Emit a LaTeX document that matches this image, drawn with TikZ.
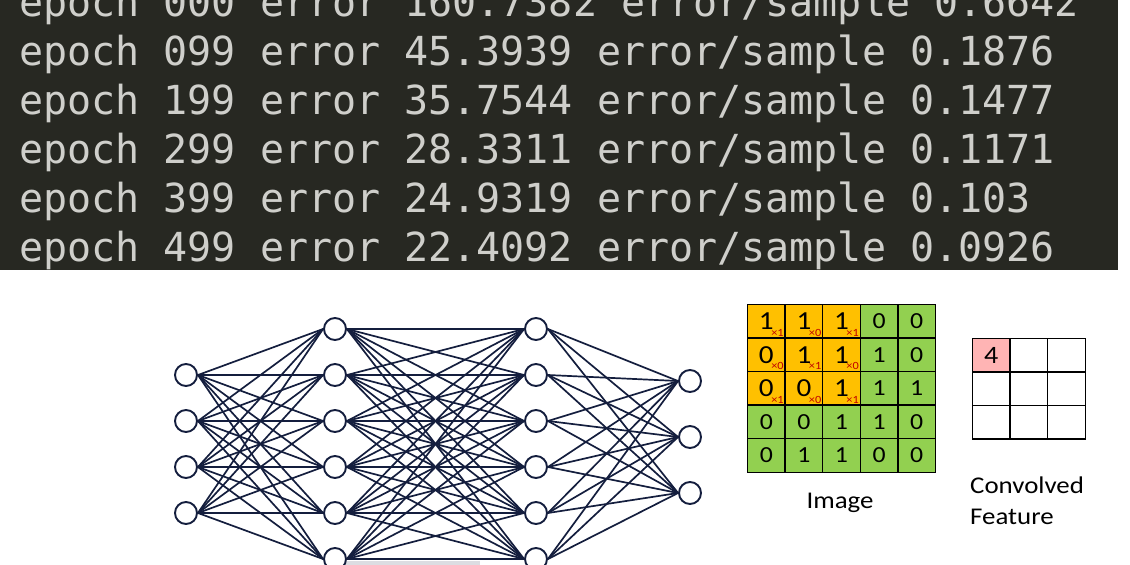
\documentclass[tikz,border=0pt]{standalone}
\usepackage{fontspec}
\usepackage{graphicx}
\setmainfont{Carlito}
\newfontfamily\termfont{DejaVu Sans Mono}
\definecolor{termbg}{RGB}{39,40,34}
\definecolor{termfg}{RGB}{207,207,203}
\definecolor{netblue}{RGB}{20,30,62}
\definecolor{kernorange}{RGB}{255,192,0}
\definecolor{imggreen}{RGB}{146,208,80}
\definecolor{featpink}{RGB}{255,180,180}
\definecolor{kernred}{RGB}{192,0,0}
\newcommand{\wide}[1]{\scalebox{1.12}[1]{#1}}
\tikzset{
  termline/.style={anchor=base west,inner sep=0pt,text=termfg,font=\termfont\fontsize{40}{49}\selectfont},
  neuron/.style={circle,draw=netblue,line width=1.9pt,minimum size=22pt,inner sep=0pt,fill=white},
  synapse/.style={draw=netblue,line width=1.7pt},
  imgcell/.style={draw=black,line width=1.5pt,minimum width=37.6pt,minimum height=33.6pt,inner sep=0pt,fill=imggreen,font=\fontsize{23}{23}\selectfont},
  kern0/.style={},
  kern1/.style={fill=kernorange,font=\fontsize{26}{26}\selectfont},
  weight/.style={anchor=base east,inner sep=0pt,text=kernred,font=\fontsize{11}{11}\selectfont},
  featcell/.style={imgcell,fill=white,font=\fontsize{25}{25}\selectfont},
  caption/.style={inner sep=0pt,font=\fontsize{24}{24}\selectfont}
}
\begin{document}
\begin{tikzpicture}[x=1pt,y=-1pt]
\useasboundingbox (0,0) rectangle (1130,565);
\fill[termbg] (0,0) rectangle (1118,270);
\foreach \epo/\loss/\rate [count=\k] in {000/160.7382/0.6642,099/45.3939/0.1876,199/35.7544/0.1477,299/28.3311/0.1171,399/24.9319/0.103,499/22.4092/0.0926}
\node[termline] (log\k) at (19,{16+49*(\k-1)}) {epoch \epo\ error \loss\ error/sample \rate};
% network
\fill[netblue!15] (345,561) rectangle (480,565);
\foreach \y [count=\k] in {375,421,467,513}
\node[neuron] (in\k) at (186,\y) {};
\foreach \y [count=\k] in {329,375,421,467,513,559}
\node[neuron] (hida\k) at (335,\y) {};
\foreach \y [count=\k] in {329,375,421,467,513,559}
\node[neuron] (hidb\k) at (536,\y) {};
\foreach \y [count=\k] in {381,437,493}
\node[neuron] (out\k) at (690,\y) {};
\foreach \a in {1,...,4}
\foreach \b in {1,...,6}
\draw[synapse] (in\a.east) -- (hida\b.west);
\foreach \a in {1,...,6}
\foreach \b in {1,...,6}
\draw[synapse] (hida\a.east) -- (hidb\b.west);
\foreach \a in {1,...,6}
\foreach \b in {1,...,3}
\draw[synapse] (hidb\a.east) -- (out\b.west);
% image and kernel
\foreach \row [count=\r] in {{1,1,1,0,0},{0,1,1,1,0},{0,0,1,1,1},{0,0,1,1,0},{0,1,1,0,0}}
\foreach \v [count=\c] in \row {
\pgfmathtruncatemacro\inker{and(\r<4,\c<4)}
\node[imgcell,kern\inker] (img\r\c) at ({747.5+37.6*(\c-0.5)},{304.3+33.6*(\r-0.5)}) {\wide{\v}};
}
\foreach \w [count=\k from 0] in {1,0,1,0,1,0,1,0,1} {
\pgfmathtruncatemacro\r{div(\k,3)+1}
\pgfmathtruncatemacro\c{mod(\k,3)+1}
\node[weight,xshift=-2pt,yshift=2.5pt] (w\r\c) at (img\r\c.south east) {\wide{×\w}};
}
% convolved feature
\node[featcell,fill=featpink] (feat11) at ({972.5+37.6*0.5},{338.3+33.6*0.5}) {\wide{4}};
\foreach \r/\c in {1/2,1/3,2/1,2/2,2/3,3/1,3/2,3/3}
\node[featcell] (feat\r\c) at ({972.5+37.6*(\c-0.5)},{338.3+33.6*(\r-0.5)}) {};
\node[caption,anchor=base] (imgname) at (840,508) {\wide{Image}};
\node[caption,anchor=base west] (convname) at (970,493) {\wide{Convolved}};
\node[caption,anchor=base west] (featname) at (970,524) {\wide{Feature}};
\end{tikzpicture}
\end{document}
